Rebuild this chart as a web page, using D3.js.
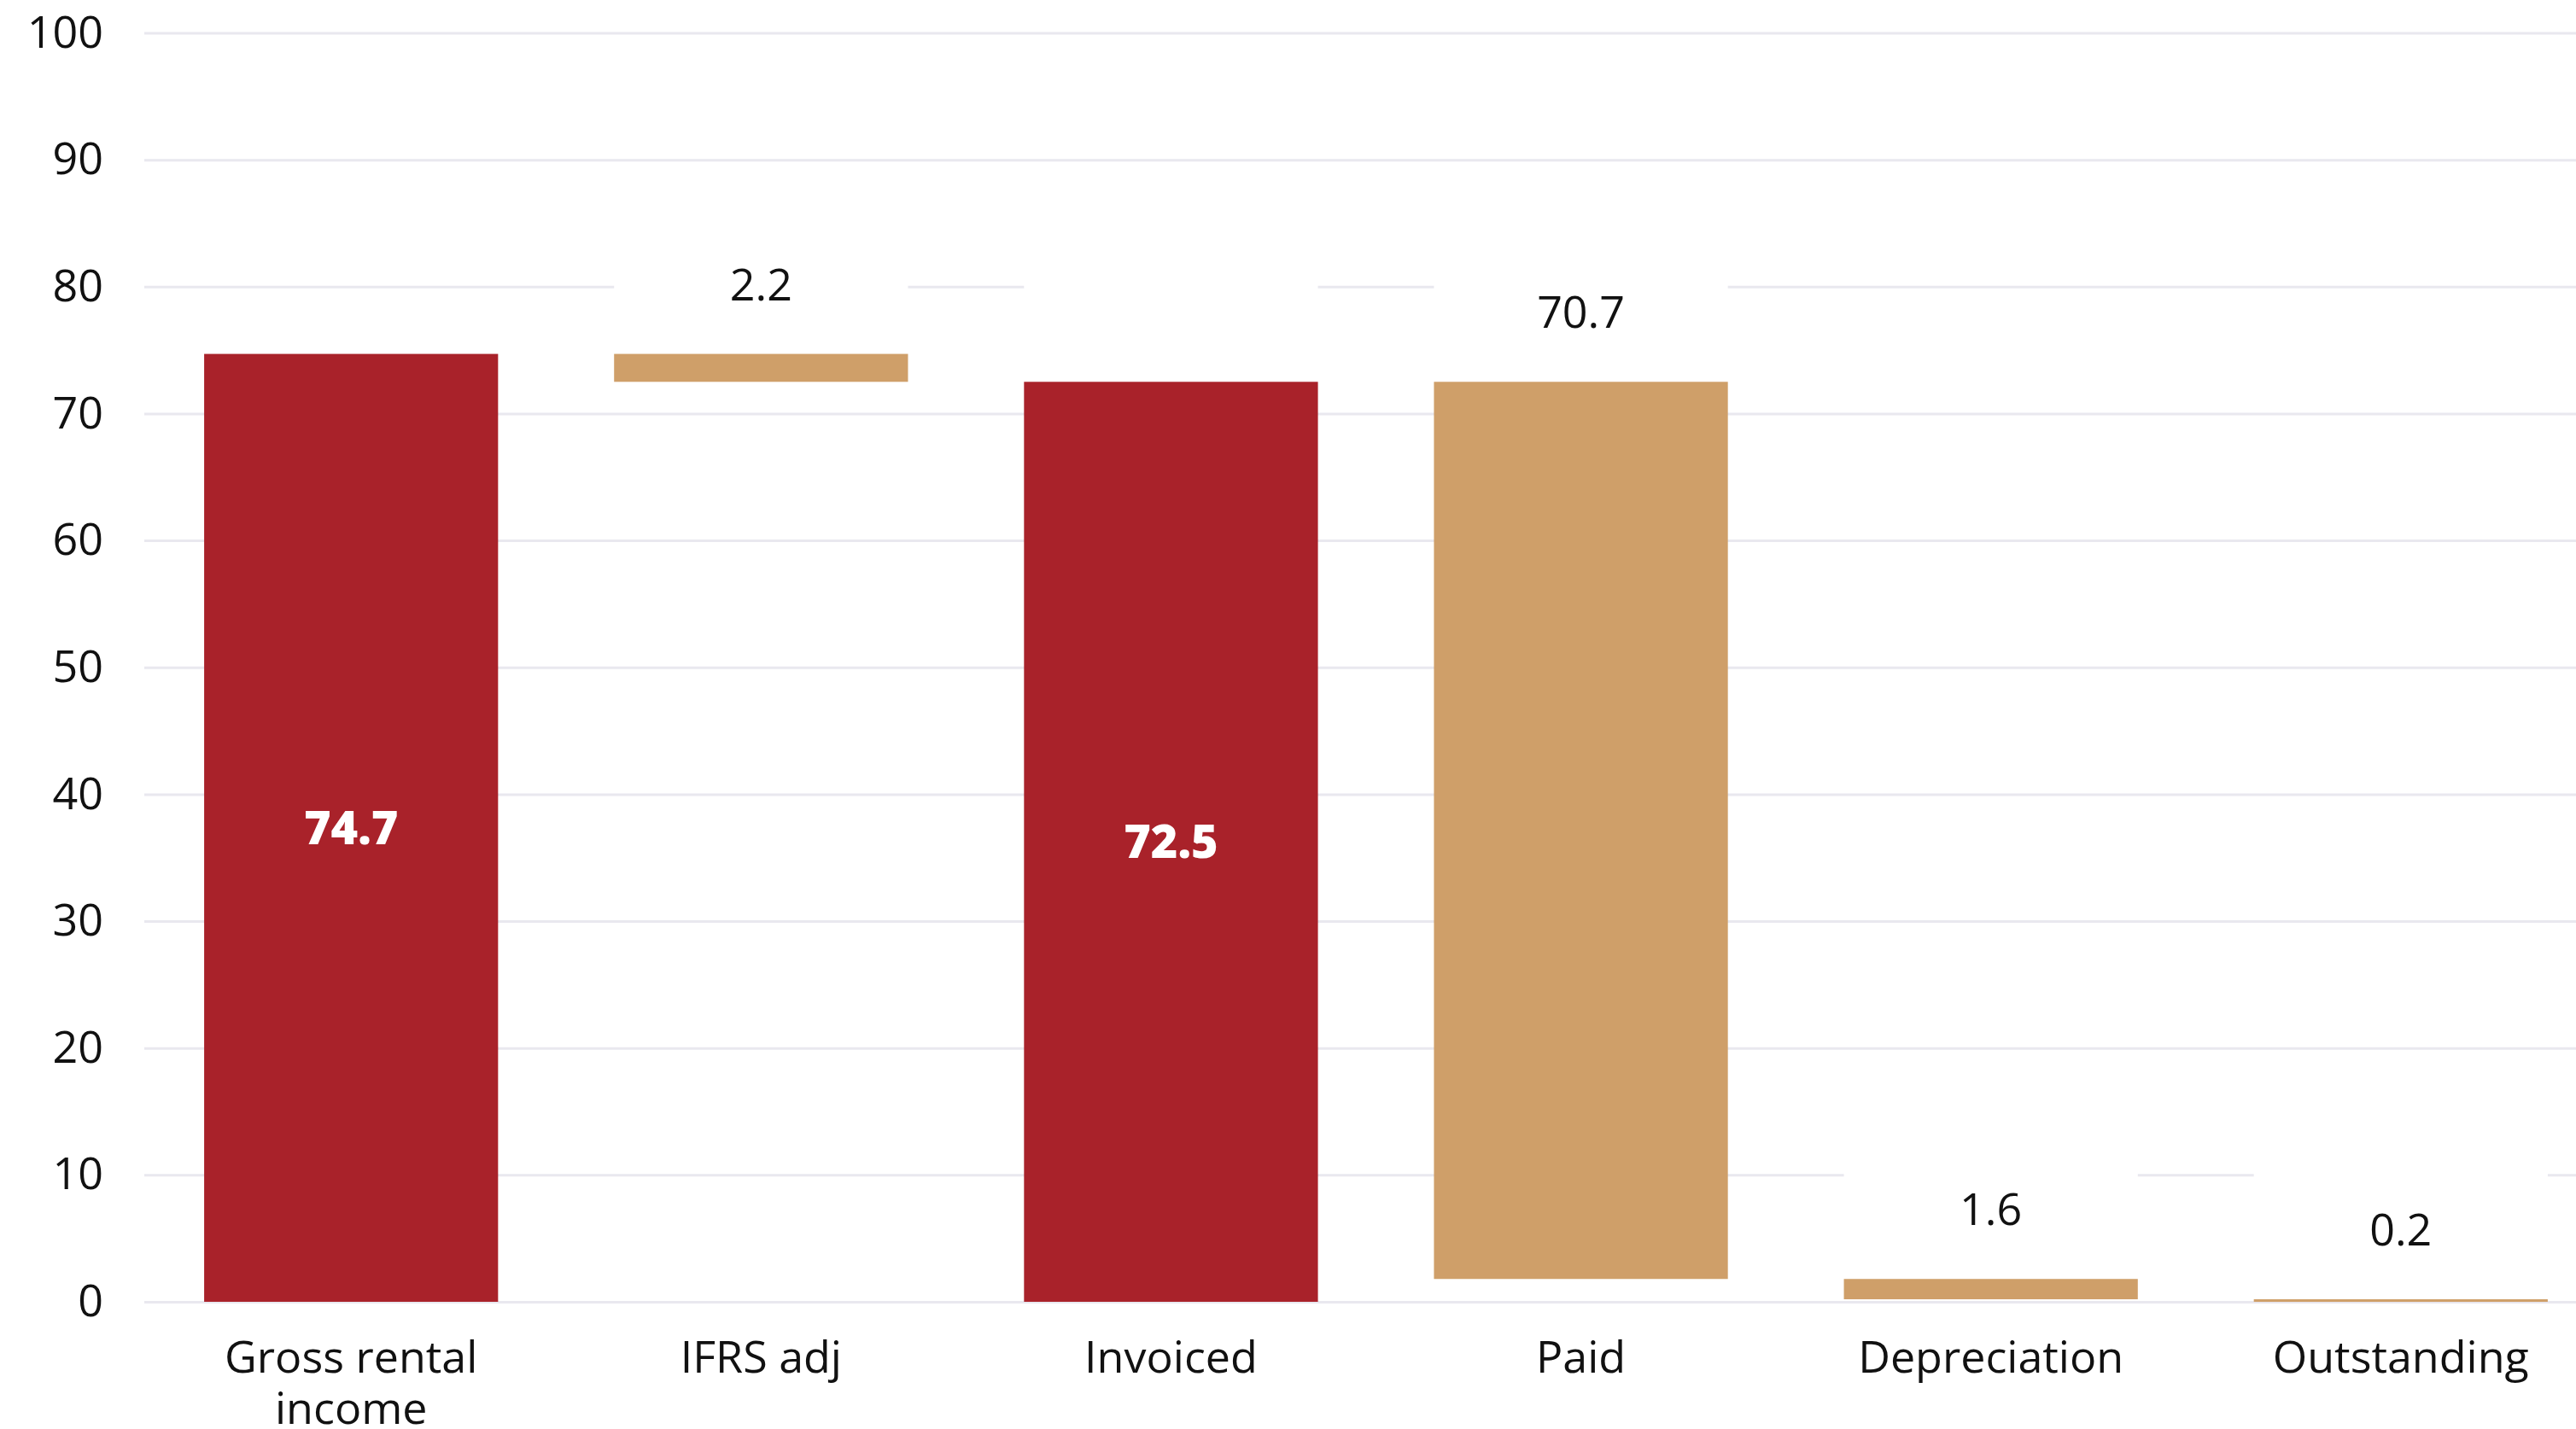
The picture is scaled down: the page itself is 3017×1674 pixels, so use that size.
<!DOCTYPE html>
<html>
<head>
<meta charset="utf-8">
<script src="https://cdn.jsdelivr.net/npm/d3@7"></script>
<style>
  html, body { margin: 0; padding: 0; background: #ffffff; overflow: hidden; }
  svg { display: block; font-family: "Open Sans", "Noto Sans", sans-serif; }
</style>
</head>
<body>
<svg id="chart" width="3017" height="1674"></svg>
<script>
// ---- data ----
const categories = ["Gross rental income", "IFRS adj", "Invoiced", "Paid", "Depreciation", "Outstanding"];
const values     = [74.7, 2.2, 72.5, 70.7, 1.6, 0.2];
const bases      = [0, 72.5, 0, 1.8, 0.2, 0];
const kinds      = ["total", "delta", "total", "delta", "delta", "delta"];
const labelBoxes = [false, true, true, true, true, true];
const yTicks     = [0, 10, 20, 30, 40, 50, 60, 70, 80, 90, 100];

const colors = { total: "#A9222A", delta: "#CF9F69" };

const W = 3017, H = 1674;
const svg = d3.select("#chart");

const x = d3.scaleBand()
  .domain(categories)
  .range([169, 3054])
  .paddingInner(0.283)
  .paddingOuter(0.146);

const y = d3.scaleLinear().domain([0, 100]).range([1525, 38.5]);

// grid lines
const grid = svg.append("g")
  .attr("transform", `translate(169,0)`)
  .call(d3.axisLeft(y).tickValues(yTicks).tickSize(-(W - 169)).tickFormat(""));
grid.select(".domain").remove();
grid.selectAll("line").attr("stroke", "#E9E8EF").attr("stroke-width", 3);

// y tick labels
const yAxis = svg.append("g")
  .attr("transform", "translate(121,0)")
  .call(d3.axisLeft(y).tickValues(yTicks).tickSize(0).tickPadding(0));
yAxis.select(".domain").remove();
yAxis.selectAll("text")
  .attr("font-size", 52)
  .attr("fill", "#111")
  .attr("font-family", "'Open Sans', sans-serif");

const rows = categories.map((c, i) => ({ c, v: values[i], b: bases[i], k: kinds[i], box: labelBoxes[i] }));

// white label boxes (cover the grid above delta bars)
svg.append("g").selectAll("rect")
  .data(rows.filter(d => d.box))
  .join("rect")
  .attr("x", d => x(d.c))
  .attr("width", x.bandwidth())
  .attr("y", d => y(d.b + d.v) - 162)
  .attr("height", 158)
  .attr("fill", "#ffffff");

// bars
svg.append("g").selectAll("rect")
  .data(rows)
  .join("rect")
  .attr("x", d => x(d.c))
  .attr("width", x.bandwidth())
  .attr("y", d => y(d.b + d.v))
  .attr("height", d => Math.max(y(d.b) - y(d.b + d.v), 3))
  .attr("fill", d => colors[d.k]);

// value labels
svg.append("g").selectAll("text")
  .data(rows)
  .join("text")
  .attr("x", d => x(d.c) + x.bandwidth() / 2)
  .attr("y", d => d.k === "total" ? y(d.b + d.v / 2) : y(d.b + d.v) - 63)
  .attr("dy", d => d.k === "total" ? "0.35em" : 0)
  .attr("text-anchor", "middle")
  .attr("font-size", d => d.k === "total" ? 54 : 52)
  .attr("font-weight", d => d.k === "total" ? 800 : 400)
  .attr("fill", d => d.k === "total" ? "#ffffff" : "#111")
  .text(d => d3.format(".1f")(d.v));

// x axis labels
const xAxis = svg.append("g")
  .attr("transform", `translate(0,${y(0)})`)
  .call(d3.axisBottom(x).tickSize(0).tickPadding(0));
xAxis.select(".domain").remove();
xAxis.selectAll("text")
  .attr("font-size", 52)
  .attr("fill", "#111")
  .attr("font-family", "'Open Sans', sans-serif")
  .attr("y", 83)
  .attr("dy", 0)
  .each(function () {
    const t = d3.select(this);
    const words = t.text().split(/\s+/);
    const maxW = x.bandwidth();
    t.text(null);
    let line = [];
    let tspan = t.append("tspan").attr("x", 0).attr("dy", 0);
    words.forEach(w => {
      line.push(w);
      tspan.text(line.join(" "));
      if (tspan.node().getComputedTextLength() > maxW && line.length > 1) {
        line.pop();
        tspan.text(line.join(" "));
        line = [w];
        tspan = t.append("tspan").attr("x", 0).attr("dy", 60).text(w);
      }
    });
  });
</script>
</body>
</html>
